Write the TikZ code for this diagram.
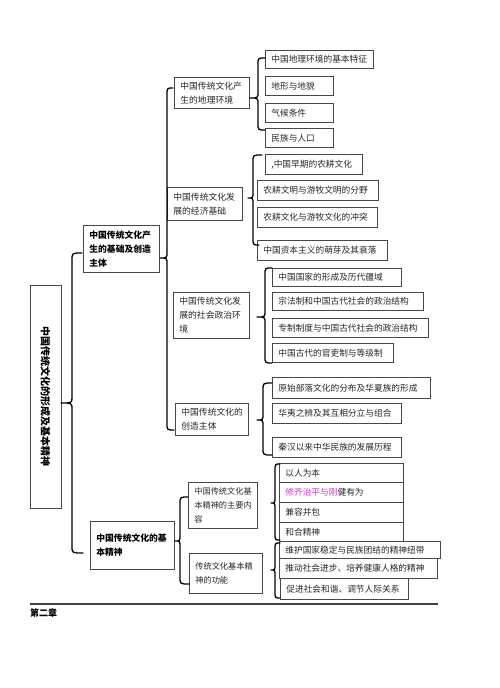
\documentclass[tikz,border=0pt]{standalone}
\usepackage{fontspec}
\newfontfamily\cjk{Noto Sans CJK SC}
\definecolor{mag}{RGB}{204,51,204}
\tikzset{
  box/.style={draw=black!72,line width=0.7pt,inner xsep=6pt,inner ysep=0pt,anchor=north west,align=left,
    font=\cjk\fontsize{8.7}{14}\selectfont,text=black!85},
  midbox/.style={font=\cjk\fontsize{8.8}{14}\selectfont},
  smallbox/.style={font=\cjk\fontsize{8.2}{14}\selectfont},
  bbox/.style={font=\cjk\bfseries\fontsize{8.8}{14}\selectfont,text=black},
  brc/.style={line width=1.3pt,black,line join=round,line cap=round}
}
% box: [opts]{name}{x1}{y1}{x2}{y2}{text}
\newcommand\bx[7][]{\pgfmathsetmacro\tw{#5-#3-12}\pgfmathsetmacro\bh{#6-#4}%
  \node[box,#1,text width=\tw pt,minimum height=\bh pt] (#2) at (#3,#4) {#7};}
% brace: tip x, tip y, vertical x, top y, top end x, bottom y, bottom end x
\newcommand\mybrace[7]{\draw[brc] (#5,#4) .. controls (#3,#4) .. (#3,#4+7) -- (#3,#2-6)
  .. controls (#3,#2) .. (#1,#2) .. controls (#3,#2) .. (#3,#2+6) -- (#3,#6-7)
  .. controls (#3,#6) .. (#7,#6);}
\begin{document}
\begin{tikzpicture}[x=1pt,y=-1pt]
\useasboundingbox (0,0) rectangle (500,688);
% root
\node[draw=black!72,line width=0.7pt,rotate=-90,minimum width=223pt,minimum height=31pt,inner sep=0pt,
  font=\cjk\bfseries\fontsize{10}{12}\selectfont] (root) at (45.5,396.5) {中国传统文化的形成及基本精神};
% level 1
\bx[bbox]{A}{83}{225}{159}{272}{中国传统文化产\\生的基础及创造\\主体}
\bx[bbox]{B}{90}{521}{174}{569}{中国传统文化的基\\本精神}
% level 2
\bx[midbox]{C1}{174}{77}{249}{108}{中国传统文化产\\生的地理环境}
\bx[midbox]{C2}{167}{187}{242}{220}{中国传统文化发\\展的经济基础}
\bx[midbox]{C3}{173}{292}{249}{338}{中国传统文化发\\展的社会政治环\\境}
\bx[midbox]{C4}{175}{403}{248}{435}{中国传统文化的\\创造主体}
\bx[smallbox]{C5}{188}{482}{257}{528}{中国传统文化基\\本精神的主要内\\容}
\bx[smallbox]{C6}{189}{553}{262}{593}{传统文化基本精\\神的功能}
% leaves group 1
\bx{L11}{265}{50}{373}{68}{中国地理环境的基本特征}
\bx{L12}{265}{76}{333}{95}{地形与地貌}
\bx{L13}{265}{103}{333}{122}{气候条件}
\bx{L14}{265}{128}{333}{147}{民族与人口}
% group 2
\bx{L21}{265}{154}{362}{174}{,中国早期的农耕文化}
\bx{L22}{257}{180}{378}{200}{农耕文明与游牧文明的分野}
\bx{L23}{257}{207}{377}{227}{农耕文化与游牧文化的冲突}
\bx{L24}{257}{240}{387}{260}{中国资本主义的萌芽及其衰落}
% group 3
\bx{L31}{272}{268}{401}{286}{中国国家的形成及历代疆域}
\bx{L32}{272}{292}{423}{310}{宗法制和中国古代社会的政治结构}
\bx{L33}{272}{318}{428}{337}{专制制度与中国古代社会的政治结构}
\bx{L34}{272}{343}{393}{362}{中国古代的官吏制与等级制}
% group 4
\bx{L41}{272}{377}{430}{398}{原始部落文化的分布及华夏族的形成}
\bx{L42}{272}{403}{401}{423}{华夷之辨及其互相分立与组合}
\bx{L43}{272}{437}{401}{457}{秦汉以来中华民族的发展历程}
% group 5
\bx{L51}{279}{463}{403}{482}{以人为本}
\bx{L52}{279}{482}{403}{502}{\textcolor{mag}{修齐治平与刚}健有为}
\bx{L53}{279}{502}{403}{522}{兼容并包}
\bx{L54}{279}{522}{403}{541}{和合精神}
% group 6
\bx{L61}{279}{541}{440}{558}{维护国家稳定与民族团结的精神纽带}
\bx{L62}{279}{558}{437}{578}{推动社会进步、培养健康人格的精神}
\bx{L63}{280}{578}{408}{599}{促进社会和谐、调节人际关系}
% braces
\mybrace{61}{403}{72}{253}{82}{553}{83}
\mybrace{160}{258}{167}{88}{173}{430}{174}
\mybrace{175}{541}{180}{497}{188}{584}{189}
\mybrace{250}{98}{258}{58}{265}{130}{265}
\mybrace{248}{198}{253}{155}{262}{245}{259}
\mybrace{257}{317}{265}{268}{272}{363}{272}
\mybrace{257}{420}{263}{383}{272}{455}{272}
\mybrace{271}{503}{275}{464}{280}{540}{280}
\mybrace{271}{570}{275}{543}{280}{598}{280}
% footer
\draw[line width=1.2pt,black!75] (30,604) coordinate (r1) -- (438,604) coordinate (r2);
\node[anchor=west,inner sep=0pt,font=\cjk\bfseries\fontsize{9}{10}\selectfont] (ch) at (30,613) {第二章};
\end{tikzpicture}
\end{document}
